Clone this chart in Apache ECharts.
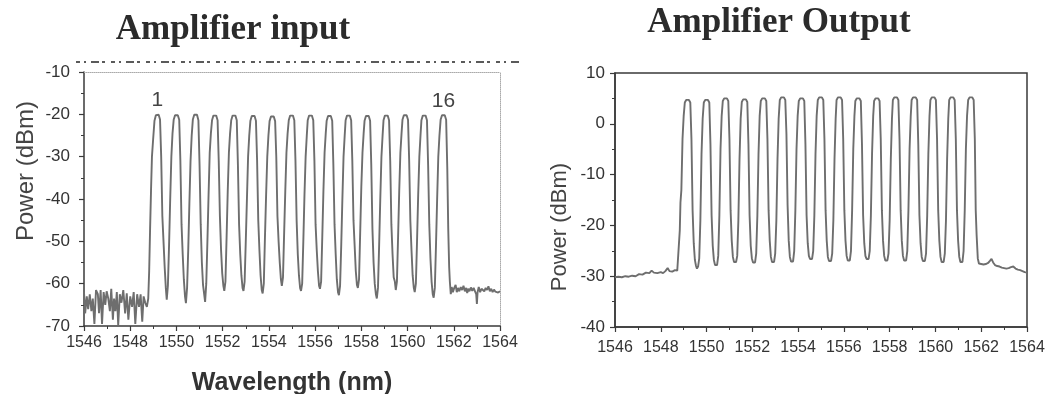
<!DOCTYPE html>
<html><head><meta charset="utf-8">
<script src="https://cdn.jsdelivr.net/npm/echarts@6/dist/echarts.min.js"></script>
<style>html,body{margin:0;padding:0;background:#fff}#c{width:1050px;height:394px}</style>
</head><body><div id="c"></div>
<script>
const leftTitle = 'Amplifier input';
const rightTitle = 'Amplifier Output';
const yAxisName = 'Power (dBm)';
const xAxisName = 'Wavelength (nm)';
const wavelengthRange = [1546, 1564];
const wavelengthStep = 2;
const inputPowerRange = [-70, -10];
const outputPowerRange = [-40, 10];
const powerStep = 10;

// Amplifier input spectrum [wavelength nm, power dBm]
const inputSpectrum = [
[1546.00,-62],[1546.05,-67],[1546.12,-63],[1546.18,-66],[1546.25,-62.5],[1546.32,-66.5],[1546.38,-63.5],[1546.45,-69.5],[1546.52,-61.5],[1546.60,-62.5],
[1546.65,-67],[1546.72,-61.5],[1546.78,-69.5],[1546.85,-62],[1546.92,-65],[1546.98,-61.8],[1547.05,-63.5],[1547.12,-66.5],[1547.18,-61.2],[1547.25,-68.5],
[1547.30,-63.5],[1547.36,-66.5],[1547.42,-62],[1547.48,-69.8],[1547.55,-62.5],[1547.62,-64.5],[1547.70,-61.5],[1547.78,-67],[1547.85,-62.3],[1547.92,-68.5],
[1548.00,-63],[1548.08,-65.5],[1548.15,-62],[1548.22,-69.5],[1548.30,-62.5],[1548.38,-65.5],[1548.45,-62.5],[1548.52,-69],[1548.58,-63],[1548.65,-64.5],[1548.72,-65.5],[1548.78,-63.5],
[1548.82,-57],[1548.86,-47],[1548.90,-38],[1548.94,-30],[1548.99,-26],
[1549.05,-21.5],[1549.11,-20.2],[1549.17,-19.8],[1549.23,-20.1],[1549.29,-21.2],[1549.34,-30],[1549.39,-44],[1549.44,-50],[1549.49,-56],[1549.54,-61],[1549.58,-63.8],[1549.63,-60.5],[1549.68,-51],[1549.73,-40],[1549.78,-30],[1549.83,-24.5],
[1549.88,-21.3],[1549.94,-20.2],[1550.00,-19.9],[1550.06,-20.2],[1550.12,-21.3],[1550.17,-31],[1550.22,-46],[1550.27,-53],[1550.32,-59],[1550.37,-63],[1550.41,-64.6],[1550.46,-61],[1550.51,-52],[1550.56,-41],[1550.61,-31],[1550.66,-25],
[1550.71,-21.2],[1550.77,-20.1],[1550.83,-19.8],[1550.89,-20.1],[1550.95,-21.4],[1551.00,-32],[1551.05,-46],[1551.10,-55],[1551.15,-60.3],[1551.20,-60.6],[1551.24,-64.3],[1551.29,-60],[1551.34,-50],[1551.39,-39],[1551.44,-29],[1551.49,-24.5],
[1551.54,-21.4],[1551.60,-20.3],[1551.66,-20.0],[1551.72,-20.3],[1551.78,-21.4],[1551.83,-31],[1551.88,-44],[1551.93,-52],[1551.98,-57.5],[1552.03,-60.5],[1552.07,-61.7],[1552.12,-59.5],[1552.17,-49],[1552.22,-38],[1552.27,-29],[1552.32,-24.5],
[1552.37,-21.4],[1552.43,-20.3],[1552.49,-20.0],[1552.55,-20.3],[1552.61,-21.4],[1552.66,-32],[1552.71,-46],[1552.76,-53],[1552.81,-58],[1552.86,-61],[1552.90,-61.7],[1552.95,-59.5],[1553.00,-50],[1553.05,-40],[1553.10,-30],[1553.15,-25],
[1553.20,-21.5],[1553.26,-20.4],[1553.32,-20.1],[1553.38,-20.4],[1553.44,-21.5],[1553.49,-31],[1553.54,-45],[1553.59,-52],[1553.64,-58],[1553.69,-61.5],[1553.73,-62.3],[1553.78,-60],[1553.83,-49],[1553.88,-39],[1553.93,-30],[1553.98,-25],
[1554.03,-21.6],[1554.09,-20.5],[1554.15,-20.2],[1554.21,-20.5],[1554.27,-21.6],[1554.32,-30],[1554.37,-44],[1554.42,-50],[1554.47,-55],[1554.52,-59],[1554.56,-60.5],[1554.61,-58.5],[1554.66,-48],[1554.71,-38],[1554.76,-29],[1554.81,-24.5],
[1554.86,-21.4],[1554.92,-20.3],[1554.98,-20.0],[1555.04,-20.3],[1555.10,-21.4],[1555.15,-31],[1555.20,-45],[1555.25,-53],[1555.30,-58],[1555.35,-61],[1555.39,-61.7],[1555.44,-60],[1555.49,-50],[1555.54,-39],[1555.59,-30],[1555.64,-25],
[1555.68,-21.4],[1555.74,-20.3],[1555.80,-20.0],[1555.86,-20.3],[1555.92,-21.4],[1555.97,-31],[1556.02,-46],[1556.07,-52],[1556.12,-57],[1556.17,-60.5],[1556.21,-61.2],[1556.26,-59.5],[1556.31,-49],[1556.36,-38],[1556.41,-29],[1556.46,-24.5],
[1556.50,-21.5],[1556.56,-20.4],[1556.62,-20.1],[1556.68,-20.4],[1556.74,-21.5],[1556.79,-32],[1556.84,-46],[1556.89,-53],[1556.94,-59],[1556.99,-62],[1557.03,-62.7],[1557.08,-60.5],[1557.13,-51],[1557.18,-40],[1557.23,-30],[1557.28,-25],
[1557.32,-21.4],[1557.38,-20.3],[1557.44,-20.0],[1557.50,-20.3],[1557.56,-21.4],[1557.61,-31],[1557.66,-45],[1557.71,-51],[1557.76,-57],[1557.81,-60.3],[1557.85,-61.0],[1557.90,-59],[1557.95,-48],[1558.00,-37],[1558.05,-29],[1558.10,-24.5],
[1558.14,-21.5],[1558.20,-20.4],[1558.26,-20.1],[1558.32,-20.4],[1558.38,-21.5],[1558.43,-32],[1558.48,-47],[1558.53,-55],[1558.58,-60],[1558.63,-62.5],[1558.67,-63.5],[1558.72,-61],[1558.77,-51],[1558.82,-40],[1558.87,-30],[1558.92,-25],
[1558.96,-21.4],[1559.02,-20.3],[1559.08,-20.0],[1559.14,-20.3],[1559.20,-21.4],[1559.25,-31],[1559.30,-46],[1559.35,-53],[1559.40,-58.5],[1559.45,-59.5],[1559.49,-61.5],[1559.54,-59.5],[1559.59,-49],[1559.64,-38],[1559.69,-29],[1559.74,-24.5],
[1559.78,-21.3],[1559.84,-20.2],[1559.90,-19.9],[1559.96,-20.2],[1560.02,-21.3],[1560.07,-31],[1560.12,-45],[1560.17,-52],[1560.22,-58],[1560.27,-61],[1560.31,-62.0],[1560.36,-60],[1560.41,-50],[1560.46,-39],[1560.51,-30],[1560.56,-25],
[1560.60,-21.4],[1560.66,-20.3],[1560.72,-20.0],[1560.78,-20.3],[1560.84,-21.4],[1560.89,-32],[1560.94,-46],[1560.99,-54],[1561.04,-59.5],[1561.09,-62.5],[1561.13,-63.3],[1561.18,-61],[1561.23,-51],[1561.28,-40],[1561.33,-30],[1561.38,-25],
[1561.43,-21.3],[1561.49,-20.2],[1561.55,-19.9],[1561.61,-20.2],[1561.67,-21.3],
[1561.72,-33],[1561.76,-47],[1561.80,-56],[1561.83,-59.5],[1561.87,-62.5],[1561.91,-60.8],[1561.96,-62],[1562.02,-61],[1562.08,-60.3],[1562.13,-62],
[1562.18,-61],[1562.24,-61.8],[1562.30,-60.8],[1562.36,-61.5],[1562.42,-60.5],[1562.48,-61.8],[1562.54,-61],[1562.58,-62.2],[1562.63,-61.2],[1562.68,-61.8],
[1562.74,-60.9],[1562.80,-61.7],[1562.86,-61.0],[1562.92,-61.8],[1562.97,-62.5],[1563.00,-64.8],[1563.03,-62],[1563.08,-60.8],[1563.14,-62],[1563.20,-61.2],
[1563.26,-60.8],[1563.32,-61.8],[1563.38,-61],[1563.44,-61.5],[1563.50,-60.6],[1563.56,-61.8],[1563.62,-61.2],[1563.68,-62],[1563.74,-61.4],[1563.80,-61.9],
[1563.86,-61.5],[1563.92,-62.1],[1564.00,-61.8]
];

// Amplifier output spectrum [wavelength nm, power dBm]
const outputSpectrum = [
[1546.00,-30.2],[1546.15,-30.1],[1546.30,-30.2],[1546.45,-30.0],[1546.60,-30.1],[1546.75,-29.9],[1546.90,-30.0],[1547.05,-29.6],[1547.20,-29.7],[1547.35,-29.3],
[1547.50,-29.4],[1547.60,-28.9],[1547.70,-29.3],[1547.85,-29.4],[1548.00,-29.2],[1548.10,-29.4],[1548.20,-29.0],[1548.30,-28.4],[1548.38,-29.0],[1548.50,-29.1],
[1548.62,-28.8],[1548.72,-28.9],[1548.80,-28.6],
[1548.83,-21],[1548.86,-15.5],[1548.90,-13],[1548.95,-3],[1549.00,1.5],
[1549.05,4.2],[1549.11,4.7],[1549.17,4.8],[1549.23,4.7],[1549.29,4.2],[1549.34,-3],[1549.39,-17],[1549.44,-23.5],[1549.49,-26.8],[1549.54,-28.0],[1549.58,-28.5],[1549.63,-28.1],[1549.68,-26.5],[1549.73,-19],[1549.78,-6],[1549.83,1],
[1549.88,4.2],[1549.94,4.7],[1550.00,4.8],[1550.06,4.7],[1550.12,4.2],[1550.17,-4],[1550.22,-18],[1550.27,-24],[1550.32,-26.8],[1550.37,-27.8],[1550.41,-28.1],[1550.46,-27.8],[1550.51,-26],[1550.56,-18],[1550.61,-5],[1550.66,1.5],
[1550.71,4.5],[1550.77,5.0],[1550.83,5.1],[1550.89,5.0],[1550.95,4.5],[1551.00,-3],[1551.05,-17],[1551.10,-23],[1551.15,-26.2],[1551.20,-27.2],[1551.24,-27.5],[1551.29,-27.2],[1551.34,-26],[1551.39,-19],[1551.44,-7],[1551.49,1],
[1551.54,4.3],[1551.60,4.8],[1551.66,4.9],[1551.72,4.8],[1551.78,4.3],[1551.83,-4],[1551.88,-18],[1551.93,-24],[1551.98,-26.5],[1552.03,-27.3],[1552.07,-27.6],[1552.12,-27.3],[1552.17,-25.5],[1552.22,-18],[1552.27,-6],[1552.32,1.5],
[1552.37,4.5],[1552.43,5.0],[1552.49,5.1],[1552.55,5.0],[1552.61,4.5],[1552.66,-3],[1552.71,-17],[1552.76,-23],[1552.81,-26.2],[1552.86,-27.2],[1552.90,-27.5],[1552.95,-27.2],[1553.00,-25.5],[1553.05,-19],[1553.10,-7],[1553.15,1],
[1553.20,4.7],[1553.26,5.2],[1553.32,5.3],[1553.38,5.2],[1553.44,4.7],[1553.49,-2],[1553.54,-16],[1553.59,-23],[1553.64,-26.2],[1553.69,-27.1],[1553.73,-27.3],[1553.78,-27.1],[1553.83,-25],[1553.88,-17],[1553.93,-5],[1553.98,1.5],
[1554.03,4.5],[1554.09,5.0],[1554.15,5.1],[1554.21,5.0],[1554.27,4.5],[1554.32,-4],[1554.37,-18],[1554.42,-23.5],[1554.47,-26],[1554.52,-26.6],[1554.56,-26.8],[1554.61,-26.6],[1554.66,-25],[1554.71,-18],[1554.76,-6],[1554.81,1.5],
[1554.86,4.7],[1554.92,5.2],[1554.98,5.3],[1555.04,5.2],[1555.10,4.7],[1555.15,-3],[1555.20,-17],[1555.25,-23],[1555.30,-26.2],[1555.35,-27.0],[1555.39,-27.2],[1555.44,-27.0],[1555.49,-25.5],[1555.54,-19],[1555.59,-7],[1555.64,1],
[1555.68,4.7],[1555.74,5.2],[1555.80,5.3],[1555.86,5.2],[1555.92,4.7],[1555.97,-3],[1556.02,-17],[1556.07,-23],[1556.12,-26],[1556.17,-26.9],[1556.21,-27.1],[1556.26,-26.9],[1556.31,-25],[1556.36,-17],[1556.41,-5],[1556.46,1.5],
[1556.50,4.5],[1556.56,5.0],[1556.62,5.1],[1556.68,5.0],[1556.74,4.5],[1556.79,-4],[1556.84,-18],[1556.89,-23.5],[1556.94,-26],[1556.99,-26.6],[1557.03,-26.8],[1557.08,-26.6],[1557.13,-25],[1557.18,-18],[1557.23,-6],[1557.28,1.5],
[1557.32,4.5],[1557.38,5.0],[1557.44,5.1],[1557.50,5.0],[1557.56,4.5],[1557.61,-3],[1557.66,-17],[1557.71,-23],[1557.76,-26],[1557.81,-26.9],[1557.85,-27.1],[1557.90,-26.9],[1557.95,-25.5],[1558.00,-19],[1558.05,-7],[1558.10,1],
[1558.14,4.7],[1558.20,5.2],[1558.26,5.3],[1558.32,5.2],[1558.38,4.7],[1558.43,-3],[1558.48,-17],[1558.53,-23],[1558.58,-26],[1558.63,-26.9],[1558.67,-27.1],[1558.72,-26.9],[1558.77,-25],[1558.82,-17],[1558.87,-5],[1558.92,1.5],
[1558.96,4.7],[1559.02,5.2],[1559.08,5.3],[1559.14,5.2],[1559.20,4.7],[1559.25,-4],[1559.30,-18],[1559.35,-23.5],[1559.40,-26.2],[1559.45,-27.0],[1559.49,-27.2],[1559.54,-27.0],[1559.59,-25.5],[1559.64,-18],[1559.69,-6],[1559.74,1.5],
[1559.78,4.7],[1559.84,5.2],[1559.90,5.3],[1559.96,5.2],[1560.02,4.7],[1560.07,-3],[1560.12,-17],[1560.17,-23],[1560.22,-26.2],[1560.27,-27.2],[1560.31,-27.5],[1560.36,-27.2],[1560.41,-25.5],[1560.46,-19],[1560.51,-7],[1560.56,1],
[1560.60,4.7],[1560.66,5.2],[1560.72,5.3],[1560.78,5.2],[1560.84,4.7],[1560.89,-3],[1560.94,-17],[1560.99,-23],[1561.04,-26.2],[1561.09,-27.2],[1561.13,-27.5],[1561.18,-27.2],[1561.23,-25],[1561.28,-17],[1561.33,-5],[1561.38,1.5],
[1561.43,4.7],[1561.49,5.2],[1561.55,5.3],[1561.61,5.2],[1561.67,4.7],
[1561.72,-3],[1561.76,-17],[1561.80,-22],[1561.85,-26.5],[1561.90,-27.5],[1562.00,-27.6],[1562.10,-27.7],[1562.20,-27.6],[1562.30,-27.4],[1562.38,-27.0],
[1562.45,-26.6],[1562.52,-27.3],[1562.60,-27.8],[1562.70,-28.0],[1562.80,-28.1],[1562.90,-28.3],[1563.00,-28.4],[1563.10,-28.5],[1563.20,-28.4],[1563.30,-28.2],
[1563.40,-28.1],[1563.50,-28.5],[1563.60,-28.7],[1563.70,-28.8],[1563.80,-29.0],[1563.90,-29.2],[1564.00,-29.3]
];

// channel number annotations on the input spectrum
const channelLabels = ['1', '16'];
const channelLabelWavelength = [1549.17, 1561.55];
const channelLabelPower = [-19.8, -19.9];

const SANS = '"Liberation Sans", Arial, Helvetica, sans-serif';
const SERIF = '"Liberation Serif", "Times New Roman", serif';
const AXIS_DARK = '#3a3a3a';
const TRACE = '#6e6e6e';

function xAxisFor(gridIndex, fontSize, margin) {
  return {
    type: 'value', gridIndex, min: wavelengthRange[0], max: wavelengthRange[1], interval: wavelengthStep,
    axisLine: { show: true, onZero: false, lineStyle: { color: AXIS_DARK, width: 1.5 } },
    axisTick: { show: true, length: 5, lineStyle: { color: AXIS_DARK, width: 1.2 } },
    minorTick: { show: true, splitNumber: 2, length: 3, lineStyle: { color: AXIS_DARK, width: 1 } },
    splitLine: { show: false },
    axisLabel: { color: '#333', fontFamily: SANS, fontSize, margin, hideOverlap: false,
                 showMinLabel: true, showMaxLabel: true, formatter: v => String(v) }
  };
}
function yAxisFor(gridIndex, range, fontSize, margin) {
  return {
    type: 'value', gridIndex, min: range[0], max: range[1], interval: powerStep,
    axisLine: { show: true, onZero: false, lineStyle: { color: AXIS_DARK, width: 1.5 } },
    axisTick: { show: true, length: 5, lineStyle: { color: AXIS_DARK, width: 1.2 } },
    minorTick: { show: true, splitNumber: 2, length: 3, lineStyle: { color: AXIS_DARK, width: 1 } },
    splitLine: { show: false },
    axisLabel: { color: '#333', fontFamily: SANS, fontSize, margin, showMinLabel: true, showMaxLabel: true,
                 formatter: v => String(v) }
  };
}
function frameAxis(gridIndex, range, position) {
  return {
    type: 'value', gridIndex, min: range[0], max: range[1], position,
    axisLine: { show: true, onZero: false, lineStyle: { color: '#aaaaaa', width: 1, type: 'dotted' } },
    axisTick: { show: false }, axisLabel: { show: false }, splitLine: { show: false }
  };
}

const xLeft = xAxisFor(0, 16, 9);
xLeft.name = xAxisName;
xLeft.nameLocation = 'middle';
xLeft.nameGap = 45;
xLeft.nameTextStyle = { color: '#333', fontFamily: SANS, fontSize: 25, fontWeight: 'bold' };

const yLeft = yAxisFor(0, inputPowerRange, 17, 14);
yLeft.name = yAxisName;
yLeft.nameLocation = 'middle';
yLeft.nameGap = 46;
yLeft.nameTextStyle = { color: '#444', fontFamily: SANS, fontSize: 24, padding: [0, 0, 0, 56] };

const xRight = xAxisFor(1, 16, 13);
const yRight = yAxisFor(1, outputPowerRange, 17, 10);
yRight.name = yAxisName;
yRight.nameLocation = 'middle';
yRight.nameGap = 44;
yRight.nameTextStyle = { color: '#444', fontFamily: SANS, fontSize: 22, padding: [0, 54, 0, 0] };

const option = {
  animation: false,
  backgroundColor: '#ffffff',
  title: [
    { text: leftTitle, left: 233, top: 12, textAlign: 'center', padding: 0,
      textStyle: { fontFamily: SERIF, fontWeight: 'bold', fontSize: 35, color: '#2b2b2b' } },
    { text: rightTitle, left: 779, top: 5, textAlign: 'center', padding: 0,
      textStyle: { fontFamily: SERIF, fontWeight: 'bold', fontSize: 35, color: '#2b2b2b' } }
  ],
  grid: [
    { left: 84, top: 72, width: 416, height: 254, show: false, containLabel: false, outerBoundsMode: 'none' },
    { left: 615, top: 73, width: 412, height: 254, show: true, borderColor: AXIS_DARK, borderWidth: 1.5,
      backgroundColor: 'transparent', containLabel: false, outerBoundsMode: 'none' }
  ],
  xAxis: [xLeft, frameAxis(0, wavelengthRange, 'top'), xRight],
  yAxis: [yLeft, frameAxis(0, inputPowerRange, 'right'), yRight],
  graphic: [
    { type: 'line', silent: true, z: 1,
      shape: { x1: 76, y1: 62, x2: 522, y2: 62 },
      style: { stroke: '#5a5a5a', lineWidth: 2, lineDash: [4, 4, 2, 5, 8, 3, 3, 6] } }
  ],
  series: [
    { type: 'line', name: 'input', xAxisIndex: 0, yAxisIndex: 0, data: inputSpectrum,
      showSymbol: false, symbol: 'none', clip: true,
      lineStyle: { color: TRACE, width: 1.9 },
      markPoint: {
        symbol: 'circle', symbolSize: 1, itemStyle: { color: 'rgba(0,0,0,0)' },
        label: { show: true, position: 'top', distance: 2, color: '#444', fontFamily: SANS, fontSize: 21,
                 formatter: p => p.name },
        data: channelLabels.map((t, i) => ({ name: t, coord: [channelLabelWavelength[i], channelLabelPower[i]] }))
      }
    },
    { type: 'line', name: 'output', xAxisIndex: 2, yAxisIndex: 2, data: outputSpectrum,
      showSymbol: false, symbol: 'none', clip: true,
      lineStyle: { color: TRACE, width: 1.9 } }
  ]
};

const chart = echarts.init(document.getElementById('c'), null, { renderer: 'canvas' });
chart.setOption(option);
</script>
</body></html>
